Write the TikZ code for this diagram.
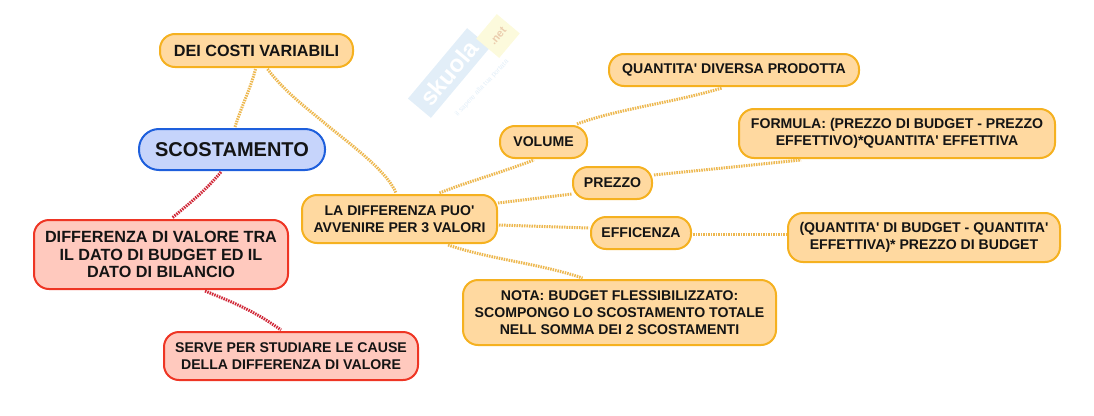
\documentclass[tikz,border=0pt]{standalone}
\usepackage{fontspec}
\setmainfont{Liberation Sans}
\definecolor{ofill}{HTML}{FFD9A0}
\definecolor{oline}{HTML}{F5B120}
\definecolor{rfill}{HTML}{FFC9BE}
\definecolor{rline}{HTML}{EE3524}
\definecolor{bfill}{HTML}{C6D4FB}
\definecolor{bline}{HTML}{1E5FDC}
\definecolor{oconn}{HTML}{EDB850}
\definecolor{rconn}{HTML}{D02838}
\definecolor{wblue}{HTML}{E2EEF8}
\definecolor{wyell}{HTML}{FCFADC}
\newcommand{\ap}{\textquotesingle}
\tikzset{
 x=1pt,y=-1pt,
 box/.style={rounded corners=15pt,line width=2pt,align=center,inner sep=0pt,
   font=\fontsize{14.1}{17.2}\selectfont\bfseries,text=black!92},
 obox/.style={box,draw=oline,fill=ofill},
 rbox/.style={box,draw=rline,fill=rfill},
 bbox/.style={box,draw=bline,fill=bfill,rounded corners=20pt,font=\fontsize{20}{24}\selectfont\bfseries},
 big/.style={font=\fontsize{16.2}{17.6}\selectfont\bfseries},
 oc/.style={draw=oconn,line width=3pt,dash pattern=on 1.5pt off 1pt},
 rc/.style={draw=rconn,line width=3pt,dash pattern=on 1.5pt off 1pt},
}
\newcommand{\bx}[7]{\node[#1,minimum width=#4pt-#2pt,minimum height=#5pt-#3pt] (#6) at ({(#2+#4)/2},{(#3+#5)/2}) {#7};}
\begin{document}
\begin{tikzpicture}
\useasboundingbox (0,0) rectangle (1094,415);
% watermark
\node[rotate=50,fill=wblue,text=white,font=\fontsize{24}{24}\selectfont\bfseries,minimum width=92pt,minimum height=30pt,inner sep=0pt] (wm) at (449,73) {skuola};
\node[rotate=50,fill=wyell,text=wblue!70!orange,font=\fontsize{11}{11}\selectfont\bfseries,minimum width=32pt,minimum height=30pt,inner sep=0pt] (wn) at (498,36) {.net};
\node[rotate=47,text=wblue,font=\fontsize{7}{7}\selectfont,inner sep=0pt] (wt) at (482,88) {il sapere alla tua portata};
% nodes
\bx{obox,big}{160}{34}{353}{67}{costi}{DEI COSTI VARIABILI}
\bx{bbox}{139}{129}{325}{170}{scost}{SCOSTAMENTO}
\bx{rbox,big}{34}{220}{288}{289}{diff}{DIFFERENZA DI VALORE TRA\\IL DATO DI BUDGET ED IL\\DATO DI BILANCIO}
\bx{rbox}{164}{332}{418}{380}{serve}{SERVE PER STUDIARE LE CAUSE\\DELLA DIFFERENZA DI VALORE}
\bx{obox}{302}{195}{497}{243}{ladiff}{LA DIFFERENZA PUO\ap\\AVVENIRE PER 3 VALORI}
\bx{obox}{500}{126}{587}{158}{vol}{VOLUME}
\bx{obox}{609}{54}{859}{86}{qdiv}{QUANTITA\ap{} DIVERSA PRODOTTA}
\bx{obox}{739}{109}{1055}{158}{form}{FORMULA: (PREZZO DI BUDGET - PREZZO\\EFFETTIVO)*QUANTITA\ap{} EFFETTIVA}
\bx{obox}{573}{167}{652}{199}{prez}{PREZZO}
\bx{obox}{591}{217}{691}{249}{eff}{EFFICENZA}
\bx{obox}{788}{213}{1060}{262}{qbud}{(QUANTITA\ap{} DI BUDGET - QUANTITA\ap\\EFFETTIVA)* PREZZO DI BUDGET}
\bx{obox}{463}{280}{776}{345}{nota}{NOTA: BUDGET FLESSIBILIZZATO:\\SCOMPONGO LO SCOSTAMENTO TOTALE\\NELL SOMMA DEI 2 SCOSTAMENTI}
% connectors
\draw[oc] ([xshift=-1pt,yshift=-1pt]costi.south) .. controls +(-5,20) and +(8,-25) .. ([xshift=3pt,yshift=1pt]scost.north);
\draw[oc] ([xshift=11pt,yshift=-1pt]costi.south) .. controls +(18,24) and +(-20,-17) .. +(63,59) .. controls +(25,20) and +(-8,-20) .. ([xshift=-3.5pt,yshift=1pt]ladiff.north);
\draw[rc] ([xshift=-11pt,yshift=-1pt]scost.south) .. controls +(-15,18) and +(18,-15) .. ([xshift=11pt,yshift=1pt]diff.north);
\draw[rc] ([xshift=44pt,yshift=-1pt]diff.south) .. controls +(30,12) and +(-25,-18) .. ([xshift=-10pt,yshift=1pt]serve.north);
\draw[oc] ([xshift=40pt,yshift=1pt]ladiff.north) .. controls +(30,-12) and +(-40,15) .. ([xshift=-9.5pt,yshift=-1pt]vol.south);
\draw[oc] ([xshift=33.5pt,yshift=1pt]vol.north) .. controls +(40,-15) and +(-50,15) .. ([xshift=-12pt,yshift=-1pt]qdiv.south);
\draw[oc] ([xshift=0pt,yshift=16pt]ladiff.east) -- ([xshift=0pt,yshift=-11pt]prez.west);
\draw[oc] ([xshift=1pt,yshift=8pt]prez.east) -- ([xshift=-96pt,yshift=-1pt]form.south);
\draw[oc] ([xshift=1pt,yshift=-6pt]ladiff.east) -- ([xshift=-1pt,yshift=5pt]eff.west);
\draw[oc] ([xshift=1pt,yshift=-1pt]eff.east) -- ([xshift=-1pt,yshift=3.5pt]qbud.west);
\draw[oc] ([xshift=48.5pt,yshift=-1pt]ladiff.south) .. controls +(45,15) and +(-45,-15) .. ([xshift=-37pt,yshift=1pt]nota.north);
\end{tikzpicture}
\end{document}
